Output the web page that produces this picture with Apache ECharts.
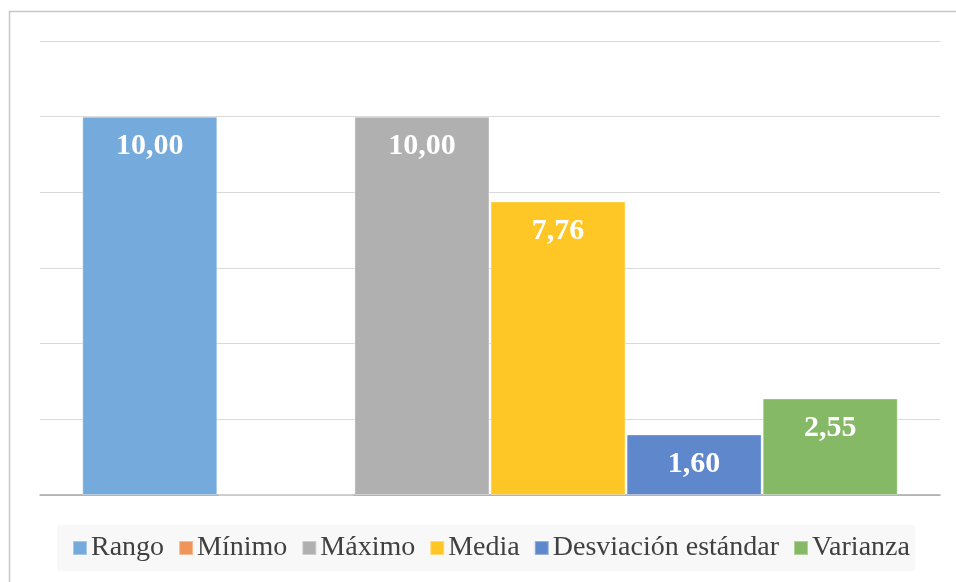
<!DOCTYPE html>
<html>
<head>
<meta charset="utf-8">
<script src="https://cdn.jsdelivr.net/npm/echarts@6/dist/echarts.min.js"></script>
<style>html,body{margin:0;padding:0;background:#fff;}#c{width:956px;height:582px;}</style>
</head>
<body>
<div id="c"></div>
<script>
const categories = [''];
const seriesNames = ['Rango', 'Mínimo', 'Máximo', 'Media', 'Desviación estándar', 'Varianza'];
const seriesValues = [10.00, 0.00, 10.00, 7.76, 1.60, 2.55];
const seriesColors = ['#75aadc', '#f0955a', '#b0b0b0', '#ffc726', '#5f87cc', '#85b965'];
const yTicks = [0, 2, 4, 6, 8, 10, 12];

const chart = echarts.init(document.getElementById('c'));
const series = seriesNames.map((name, i) => ({
  name: name,
  type: 'bar',
  data: [seriesValues[i]],
  barWidth: 135,
  barGap: '0.8%',
  itemStyle: { color: seriesColors[i], borderColor: 'rgba(255,255,255,0.35)', borderWidth: 1 },
  label: {
    show: seriesValues[i] !== 0,
    position: 'insideTop',
    distance: 15,
    color: '#ffffff',
    fontFamily: 'Liberation Serif',
    fontWeight: 'bold',
    fontSize: 30,
    formatter: p => p.value.toFixed(2).replace('.', ',')
  }
}));

chart.setOption({
  animation: false,
  backgroundColor: '#ffffff',
  graphic: [{
    type: 'rect',
    shape: { x: 9.5, y: 11.5, width: 960, height: 600 },
    style: { fill: 'none', stroke: '#c6c6c6', lineWidth: 1.5 },
    silent: true
  }],
  grid: { left: 40, right: 16, top: 41, bottom: 87 },
  xAxis: {
    type: 'category',
    data: categories,
    axisLine: { show: true, lineStyle: { color: '#a6a6a6', width: 1.5 } },
    axisTick: { show: false },
    axisLabel: { show: false }
  },
  yAxis: {
    type: 'value',
    min: yTicks[0],
    max: yTicks[yTicks.length - 1],
    interval: yTicks[1] - yTicks[0],
    axisLine: { show: false },
    axisTick: { show: false },
    axisLabel: { show: false },
    splitLine: { lineStyle: { color: '#d9d9d9', width: 1.2 } }
  },
  legend: {
    data: seriesNames,
    left: 57,
    top: 525,
    backgroundColor: '#f8f8f8',
    padding: [9, 5, 9, 15],
    itemWidth: 14,
    itemHeight: 14,
    itemGap: 14,
    icon: 'rect',
    textStyle: { fontFamily: 'Liberation Serif', fontSize: 28, color: '#404040', padding: [0, 0, 0, -1] }
  },
  series: series
});
</script>
</body>
</html>
